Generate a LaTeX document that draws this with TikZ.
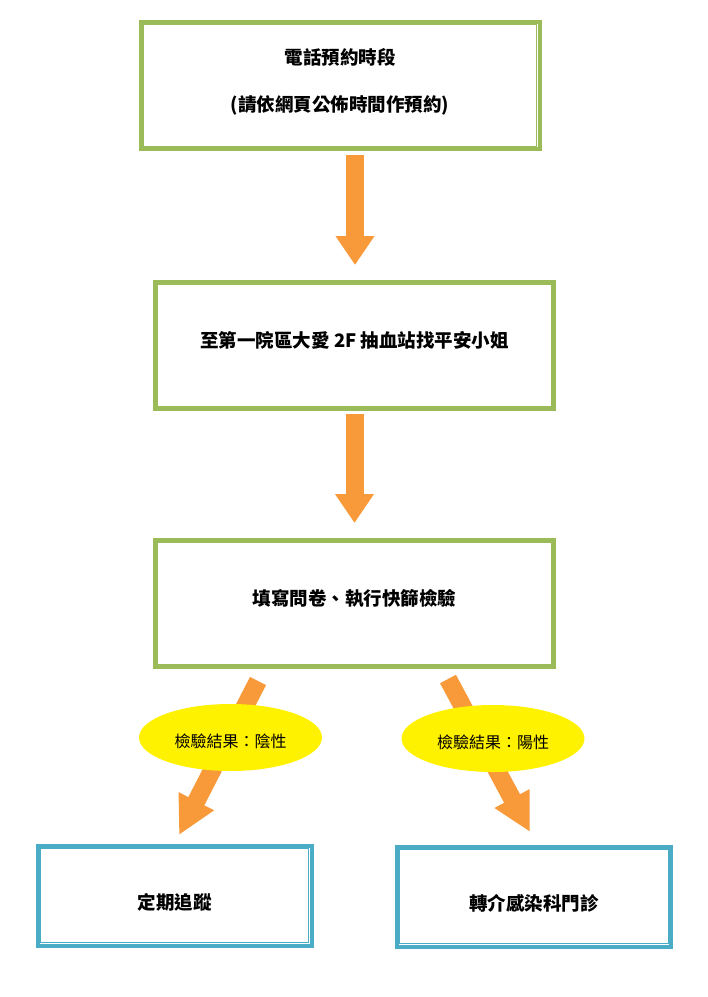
\documentclass[tikz,border=0pt]{standalone}
\usepackage{fontspec}
\usepackage{tikz}
\usetikzlibrary{shapes.geometric,arrows.meta}
\newfontfamily\cjk{Noto Sans CJK TC}
\definecolor{boxgreen}{HTML}{9BBB59}
\definecolor{boxblue}{HTML}{4BACC6}
\definecolor{arroworange}{HTML}{F99A3A}
\newcommand{\lift}[2]{\raisebox{#1}[\height][\depth]{#2}}

\begin{document}
\begin{tikzpicture}[x=1pt, y=-1pt,
    stepgreen/.style={draw=boxgreen, line width=4pt, minimum width=399pt, minimum height=127pt, font=\cjk\bfseries\fontsize{18.5}{22}\selectfont, align=center},
    stepblue/.style={draw=boxblue, line width=4pt, minimum width=274pt, minimum height=100pt, font=\cjk\bfseries\fontsize{18.5}{22}\selectfont},
    result/.style={ellipse, fill=yellow, minimum width=183pt, minimum height=67pt, inner sep=0pt, font=\cjk\fontsize{16}{18}\selectfont},
    blockarrow/.style={draw=arroworange, line width=18pt, -{Triangle[width=37pt,length=29pt]}}]

      \useasboundingbox (0,0) rectangle (708,997);

      % Boxes
      \node[stepgreen] (b1) at (340,85.5) {\lift{4pt}{電話預約時段}\\[25pt]\lift{4pt}{(請依網頁公佈時間作預約)}};
      \node[stepgreen] (b2) at (354.5,345.5) {\lift{5pt}{至第一院區大愛 2F 抽血站找平安小姐}};
      \node[stepgreen] (b3) at (354.5,603.5) {\lift{5pt}{填寫問卷、執行快篩檢驗}};
      \node[stepblue] (b4) at (174.5,895.5) {\lift{-7pt}{定期追蹤}};
      \node[stepblue] (b5) at (534,896.5) {\lift{-7pt}{轉介感染科門診}};

      % inner frame lines
      \foreach \n/\c in {b1/boxgreen, b2/boxgreen, b3/boxgreen, b4/boxblue, b5/boxblue}
        \draw[\c, line width=1.1pt] ([xshift=4.6pt,yshift=-4.6pt]\n.north west) rectangle ([xshift=-4.6pt,yshift=4.6pt]\n.south east);

      % Arrows
      \coordinate (a1s) at (355,155);
      \coordinate (a1e) at (355,265);
      \coordinate (a2s) at (354.5,414);
      \coordinate (a2e) at (354.5,523);
      \coordinate (a3s) at (258,681);
      \coordinate (a3e) at (179,835);
      \coordinate (a4s) at (448,679);
      \coordinate (a4e) at (530,832);

      \draw[blockarrow] (a1s) -- (a1e);
      \draw[blockarrow] (a2s) -- (a2e);
      \draw[blockarrow, -{Triangle[width=37pt,length=38pt]}] (a3s) -- (a3e);
      \draw[blockarrow, -{Triangle[width=37pt,length=38pt]}] (a4s) -- (a4e);

      % Results
      \node[result] (r1) at (230.5,737.5) {\lift{-4pt}{檢驗結果：陰性}};
      \node[result] (r2) at (493,738.5) {\lift{-4pt}{檢驗結果：陽性}};

\end{tikzpicture}
\end{document}
